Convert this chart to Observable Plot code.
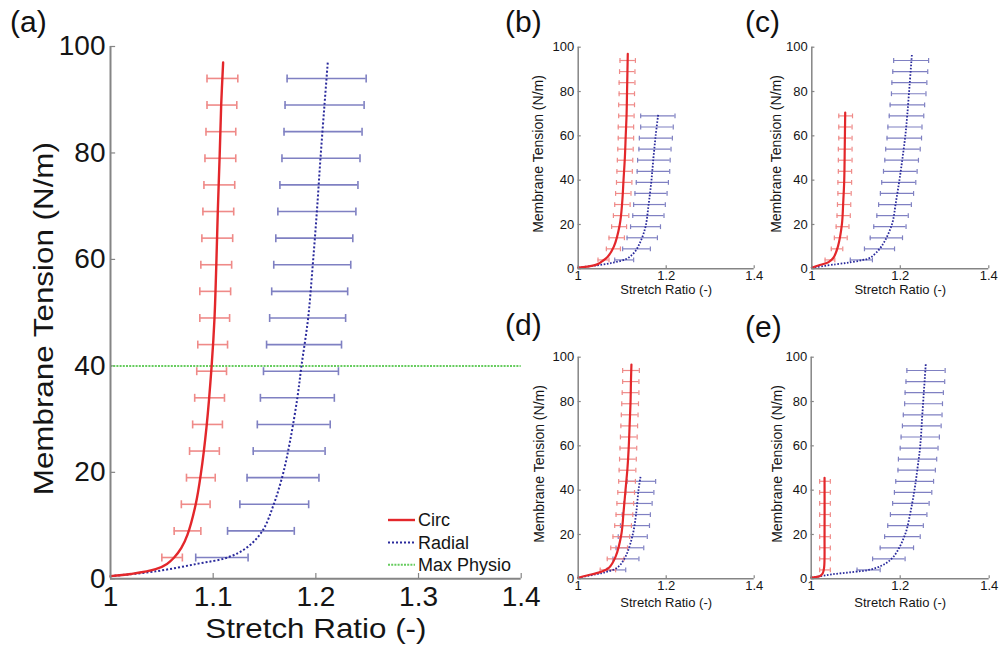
<!DOCTYPE html>
<html><head><meta charset="utf-8">
<script src="https://cdn.jsdelivr.net/npm/d3@7"></script>
<script src="https://cdn.jsdelivr.net/npm/@observablehq/plot@0.6"></script>
<style>
html,body{margin:0;padding:0;background:#fff;}
#root{position:relative;width:1002px;height:655px;overflow:hidden;background:#fff;font-family:"Liberation Sans",Arial,sans-serif;}
.panel{position:absolute;}
.plabel{position:absolute;font-size:30px;line-height:1;color:#111;}
</style></head><body><div id="root"></div>
<script>
// ---------- data ----------
const tension = [4,9,14,19,24,29,34,39,44,49,54,59,64,69,74,79,84,89,94];
const xDomain = [1, 1.4];
const yDomain = [0, 100];
const yTicks = [0,20,40,60,80,100];
const xTicksMain = [1,1.1,1.2,1.3,1.4];
const xTicksSmall = [1,1.2,1.4];
const maxPhysio = [40];
const seriesNames = ["Circ","Radial","Max Physio"];
const xLabel = "Stretch Ratio (-)";
const yLabel = "Membrane Tension (N/m)";
const panelNames = ["(a)","(b)","(c)","(d)","(e)"];

// (a)
const aCircLo = [1.050,1.062,1.069,1.074,1.077,1.080,1.082,1.084,1.085,1.087,1.087,1.088,1.089,1.090,1.091,1.092,1.093,1.094,1.094];
const aCircHi = [1.070,1.088,1.097,1.102,1.106,1.109,1.111,1.113,1.114,1.116,1.117,1.118,1.119,1.120,1.121,1.122,1.122,1.123,1.124];
const aRadLo  = [1.083,1.114,1.126,1.133,1.139,1.143,1.146,1.149,1.152,1.155,1.157,1.159,1.161,1.163,1.165,1.167,1.169,1.170,1.172];
const aRadHi  = [1.134,1.179,1.193,1.203,1.209,1.214,1.218,1.222,1.225,1.229,1.231,1.234,1.236,1.239,1.241,1.243,1.245,1.247,1.249];
const aCircX = [1.000,1.020,1.044,1.055,1.062,1.069,1.075,1.083,1.088,1.0935,1.0985,1.1013,1.1032,1.1045,1.1064,1.1078,1.1097];
const aCircY = [0.5,0.9,1.8,2.8,4.0,5.8,8.3,14.0,19.7,28.5,40,49,60,69,80,89,97];
const aRadX = [1.000,1.044,1.084,1.114,1.133,1.148,1.159,1.168,1.175,1.182,1.186,1.1925,1.197,1.201,1.2045,1.2084,1.2116];
const aRadY = [0.5,1.4,2.8,4.0,5.9,9.0,14,19.7,26,34,40,49,59,69,79,89,97];

// (b)
const bCircLo = [1.045,1.064,1.070,1.076,1.080,1.083,1.085,1.087,1.088,1.089,1.090,1.091,1.091,1.092,1.092,1.093,1.093,1.094,1.095];
const bCircHi = [1.070,1.096,1.105,1.110,1.115,1.118,1.120,1.122,1.123,1.124,1.125,1.126,1.126,1.127,1.128,1.128,1.129,1.129,1.130];
const bRadLo  = [1.083,1.101,1.111,1.119,1.124,1.126,1.129,1.132,1.134,1.135,1.138,1.139,1.142,1.142];
const bRadHi  = [1.126,1.164,1.180,1.187,1.195,1.198,1.202,1.205,1.208,1.209,1.211,1.214,1.216,1.220];
const bCircX = [1.000,1.020,1.043,1.055,1.066,1.081,1.0945,1.100,1.103,1.106,1.108,1.110,1.111,1.112,1.1127];
const bCircY = [0.5,1.0,2.0,3.5,5.2,10,20,30,40,50,60,70,80,90,97];
const bRadX = [1.000,1.040,1.080,1.110,1.128,1.141,1.153,1.160,1.166,1.171,1.176,1.182];
const bRadY = [0.5,1.5,2.8,4.5,7.5,12,19,29,39,50,60,70];

// (c)
const cCircLo = [1.030,1.044,1.051,1.055,1.057,1.058,1.059,1.059,1.060,1.060,1.060,1.061,1.061,1.061];
const cCircHi = [1.052,1.070,1.080,1.084,1.087,1.088,1.089,1.090,1.090,1.091,1.091,1.091,1.091,1.092];
const cRadLo  = [1.087,1.119,1.132,1.140,1.147,1.151,1.155,1.158,1.162,1.165,1.167,1.170,1.172,1.175,1.177,1.180,1.181,1.183,1.185];
const cRadHi  = [1.137,1.187,1.205,1.213,1.218,1.225,1.230,1.235,1.238,1.241,1.245,1.248,1.249,1.253,1.255,1.258,1.260,1.262,1.264];
const cCircX = [1.000,1.015,1.038,1.049,1.059,1.068,1.071,1.0733,1.0745,1.0755];
const cCircY = [0.5,1.5,3,5,10,20,30,40,55,70.5];
const cRadX = [1.000,1.053,1.090,1.116,1.132,1.157,1.181,1.190,1.198,1.205,1.2113,1.216,1.221,1.2262];
const cRadY = [0.5,2,3,4,5,10,20,30,40,50,60,70,83,96.7];

// (d)
const dCircLo = [1.050,1.066,1.074,1.079,1.083,1.086,1.088,1.090,1.092,1.093,1.094,1.095,1.096,1.097,1.098,1.099,1.100,1.101,1.101];
const dCircHi = [1.085,1.104,1.112,1.117,1.121,1.124,1.126,1.128,1.130,1.131,1.132,1.133,1.134,1.135,1.136,1.137,1.138,1.138,1.139];
const dRadLo  = [1.066,1.079,1.086,1.091,1.096,1.100,1.104,1.108,1.111];
const dRadHi  = [1.108,1.138,1.149,1.157,1.162,1.164,1.168,1.172,1.176];
const dCircX = [1.000,1.020,1.050,1.070,1.085,1.098,1.103,1.1075,1.112,1.115,1.117,1.119,1.120,1.121];
const dCircY = [0.5,1.5,3,5,10,20,30,40,50,60,70,80,90,96.7];
const dRadX = [1.000,1.039,1.062,1.0886,1.1075,1.124,1.132,1.137,1.1416];
const dRadY = [0.5,2,3,5,10,20,30,40,46];

// (e)
const eCircLo = [1.019,1.019,1.019,1.019,1.019,1.019,1.019,1.019,1.019];
const eCircHi = [1.043,1.043,1.043,1.043,1.043,1.043,1.043,1.043,1.043];
const eRadLo  = [1.103,1.138,1.155,1.165,1.172,1.178,1.183,1.187,1.190,1.195,1.196,1.200,1.202,1.205,1.207,1.210,1.211,1.213,1.215];
const eRadHi  = [1.155,1.211,1.230,1.245,1.252,1.260,1.265,1.271,1.275,1.279,1.282,1.285,1.288,1.292,1.294,1.295,1.297,1.300,1.301];
const eCircX = [1.000,1.010,1.020,1.026,1.029,1.030,1.030];
const eCircY = [0.5,0.8,1.3,2.5,5,20,45.6];
const eRadX = [1.000,1.016,1.046,1.091,1.129,1.159,1.185,1.211,1.223,1.232,1.239,1.245,1.250,1.2575];
const eRadY = [0.5,1,2,3,4,6,10,20,30,40,50,60,75,97];

// ---------- style ----------
const FONT = '"Liberation Sans", Arial, Helvetica, sans-serif';
const RED = "#e3272b", BLUE = "#2a2a9c", REDBAR = "#ef8a88", BLUEBAR = "#7f80c2", GREEN = "#66cc5e", AXIS = "#858585", INK = "#151515";
const cap = {draw(ctx, size) { const h = Math.sqrt(size / Math.PI); ctx.moveTo(0, -h); ctx.lineTo(0, h); }};
const fmt = d => String(d);

function bars(lo, hi) { return lo.map((l, i) => ({t: tension[i], lo: l, hi: hi[i]})); }
function pts(xs, ys) { return xs.map((x, i) => ({x, y: ys[i]})); }

const root = document.getElementById("root");

function stretchText(t, s) {
  const b = t.getBBox();
  const cx = b.x + b.width / 2;
  const tr = t.getAttribute("transform") || "";
  t.setAttribute("transform", `${tr} translate(${cx},0) scale(${s},1) translate(${-cx},0)`);
}

function makePanel(c) {
  const big = !!c.big;
  const circB = bars(c.circLo, c.circHi), radB = bars(c.radLo, c.radHi);
  const tx = big ? 0.005 : 0.007, ty = big ? 1.0 : 1.4;
  const bw = big ? 1.6 : 1.2, cr = big ? 4 : 2.4;
  const marks = [
    Plot.ruleY(yTicks, {x1: xDomain[0], x2: xDomain[0] + tx, stroke: AXIS, strokeWidth: 1.2}),
    Plot.ruleX(c.xTicks, {y1: yDomain[0], y2: yDomain[0] + ty, stroke: AXIS, strokeWidth: 1.2}),
    Plot.ruleY(radB, {y: "t", x1: "lo", x2: "hi", stroke: BLUEBAR, strokeWidth: bw}),
    Plot.dot(radB, {x: "lo", y: "t", symbol: cap, r: cr, stroke: BLUEBAR, fill: "none", strokeWidth: bw}),
    Plot.dot(radB, {x: "hi", y: "t", symbol: cap, r: cr, stroke: BLUEBAR, fill: "none", strokeWidth: bw}),
    Plot.ruleY(circB, {y: "t", x1: "lo", x2: "hi", stroke: REDBAR, strokeWidth: bw}),
    Plot.dot(circB, {x: "lo", y: "t", symbol: cap, r: cr, stroke: REDBAR, fill: "none", strokeWidth: bw}),
    Plot.dot(circB, {x: "hi", y: "t", symbol: cap, r: cr, stroke: REDBAR, fill: "none", strokeWidth: bw})
  ];
  if (big) marks.push(Plot.ruleY(maxPhysio, {stroke: GREEN, strokeWidth: 2, strokeDasharray: "2,1.2"}));
  marks.push(
    Plot.line(pts(c.radX, c.radY), {x: "x", y: "y", stroke: BLUE, strokeWidth: big ? 2 : 1.8, strokeDasharray: big ? "2,2" : "1.6,1.6", strokeLinecap: "butt", curve: "catmull-rom"}),
    Plot.line(pts(c.circX, c.circY), {x: "x", y: "y", stroke: RED, strokeWidth: big ? 2.4 : 2.2, curve: "catmull-rom"}),
    Plot.ruleX([xDomain[0]], {stroke: AXIS, strokeWidth: big ? 2 : 1.5}),
    Plot.ruleY([yDomain[0]], {stroke: AXIS, strokeWidth: big ? 2 : 1.5}),
    Plot.text([xLabel], {frameAnchor: "bottom", dy: c.xlDy, fontSize: c.xFont, fill: INK, textAnchor: "middle"}),
    Plot.text([yLabel], {frameAnchor: "left", dx: c.ylDx, dy: c.ylDy, rotate: -90, fontSize: c.yFont, fill: INK, textAnchor: "middle"})
  );
  const svg = Plot.plot({
    width: c.width, height: c.height,
    marginLeft: c.mL, marginRight: c.mR, marginTop: c.mT, marginBottom: c.mB,
    style: {fontFamily: FONT, fontSize: c.tickFont + "px", color: INK, background: "transparent", overflow: "visible"},
    x: {domain: xDomain, ticks: c.xTicks, tickFormat: fmt, tickSize: 0, tickPadding: c.padX, label: null},
    y: {domain: yDomain, ticks: yTicks, tickFormat: fmt, tickSize: 0, tickPadding: c.padY, label: null},
    marks
  });
  const div = document.createElement("div");
  div.className = "panel";
  div.style.left = c.left + "px";
  div.style.top = c.top + "px";
  div.appendChild(svg);
  root.appendChild(div);
  if (c.stretch) {
    svg.querySelectorAll("text").forEach(t => {
      if (t.textContent === xLabel || t.textContent === yLabel) stretchText(t, c.stretch);
    });
  }
}

const small = {width: 240, height: 320, mT: 46.7, mB: 51.7, tickFont: 13, xFont: 13, yFont: 14, padX: 2, padY: 4, xTicks: xTicksSmall, ylDy: -4};

makePanel({big: true, left: 0, top: 0, width: 530, height: 655, mL: 110, mR: 9.3, mT: 46, mB: 76.7,
  tickFont: 28, xFont: 28, yFont: 28, padX: 7, padY: 5, xTicks: xTicksMain, xlDy: 59, ylDx: -66, ylDy: 6, stretch: 1.12,
  circLo: aCircLo, circHi: aCircHi, radLo: aRadLo, radHi: aRadHi, circX: aCircX, circY: aCircY, radX: aRadX, radY: aRadY});
makePanel({...small, left: 520, top: 0, mL: 57.7, mR: 6.3, xlDy: 25, ylDx: -40,
  circLo: bCircLo, circHi: bCircHi, radLo: bRadLo, radHi: bRadHi, circX: bCircX, circY: bCircY, radX: bRadX, radY: bRadY});
makePanel({...small, left: 760, top: 0, width: 242, mL: 51.3, mR: 13.7, xlDy: 25, ylDx: -35,
  circLo: cCircLo, circHi: cCircHi, radLo: cRadLo, radHi: cRadHi, circX: cCircX, circY: cCircY, radX: cRadX, radY: cRadY});
makePanel({...small, left: 520, top: 310, mL: 57.7, mR: 6.3, xlDy: 28, ylDx: -39,
  circLo: dCircLo, circHi: dCircHi, radLo: dRadLo, radHi: dRadHi, circX: dCircX, circY: dCircY, radX: dRadX, radY: dRadY});
makePanel({...small, left: 760, top: 310, width: 242, mL: 50.7, mR: 13.3, xlDy: 28, ylDx: -34,
  circLo: eCircLo, circHi: eCircHi, radLo: eRadLo, radHi: eRadHi, circX: eCircX, circY: eCircY, radX: eRadX, radY: eRadY});

// legend for (a)
const legendStyles = [
  {stroke: RED, width: 2.4, dash: null},
  {stroke: BLUE, width: 2, dash: "2,2"},
  {stroke: GREEN, width: 2, dash: "2,1.2"}
];
const leg = d3.select(root).append("svg")
  .attr("width", 150).attr("height", 72)
  .style("position", "absolute").style("left", "380px").style("top", "505px").style("overflow", "visible");
seriesNames.forEach((name, i) => {
  const yy = 15 + i * 22.4;
  leg.append("line").attr("x1", 8).attr("x2", 35).attr("y1", yy).attr("y2", yy)
    .attr("stroke", legendStyles[i].stroke).attr("stroke-width", legendStyles[i].width)
    .attr("stroke-dasharray", legendStyles[i].dash);
  leg.append("text").attr("x", 38).attr("y", yy).attr("dy", "0.35em")
    .attr("font-family", FONT).attr("font-size", 18).attr("fill", INK).text(name);
});

// panel labels
const labelPos = [[10, 7], [505, 7], [745, 7], [505, 310], [745, 312]];
panelNames.forEach((n, i) => {
  const d = document.createElement("div");
  d.className = "plabel";
  d.style.left = labelPos[i][0] + "px";
  d.style.top = labelPos[i][1] + "px";
  d.textContent = n;
  root.appendChild(d);
});
</script></body></html>
